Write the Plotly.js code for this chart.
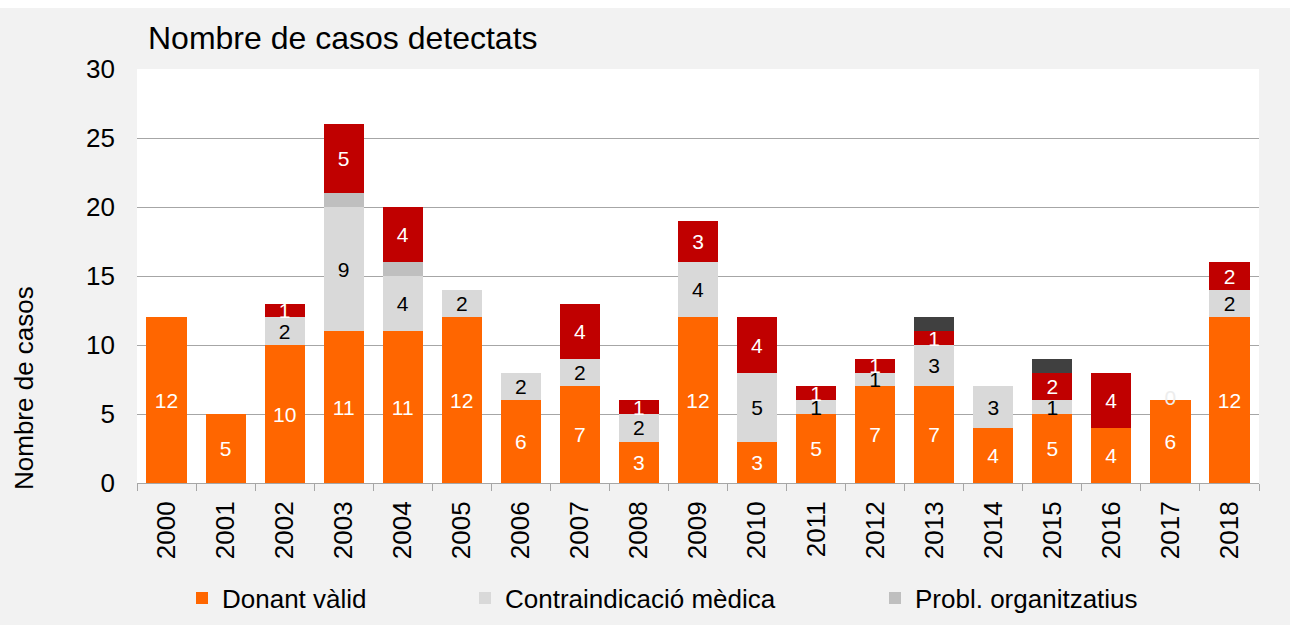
<!DOCTYPE html>
<html>
<head>
<meta charset="utf-8">
<script src="https://cdn.plot.ly/plotly-3.0.1.min.js"></script>
<style>
  body { margin: 0; background: #ffffff; }
  #chart { width: 1290px; height: 617px; margin-top: 8px; }
</style>
</head>
<body>
<div id="chart"></div>
<script>
// data
var years = ["2000","2001","2002","2003","2004","2005","2006","2007","2008","2009",
             "2010","2011","2012","2013","2014","2015","2016","2017","2018"];
var donant   = [12, 5, 10, 11, 11, 12, 6, 7, 3, 12, 3, 5, 7, 7, 4, 5, 4, 6, 12];
var contra   = [null, null, 2, 9, 4, 2, 2, 2, 2, 4, 5, 1, 1, 3, 3, 1, null, 0, 2];
var probl    = [null, null, null, 1, 1, null, null, null, null, null, null, null, null, null, null, null, null, null, null];
var negativa = [null, null, 1, 5, 4, null, null, 4, 1, 3, 4, 1, 1, 1, null, 2, 4, null, 2];
var altres   = [null, null, null, null, null, null, null, null, null, null, null, null, null, 1, null, 1, null, null, null];

var font = 'Liberation Sans, Arial, sans-serif';

// zero values can't show as a bar, so the "0" label goes in a text trace
var zeroX = [], zeroY = [];
for (var i = 0; i < years.length; i++) {
  if (contra[i] === 0) { zeroX.push(years[i]); zeroY.push(donant[i]); }
}

var labelFont = function(c) { return {color: c, size: 21, family: font}; };

var tr_donant = {
  x: years, y: donant, type: 'bar', name: 'Donant vàlid',
  marker: {color: '#FF6600'},
  texttemplate: '%{y}', textposition: 'inside', insidetextanchor: 'middle', textangle: 0,
  textfont: labelFont('#ffffff'),
  legend: 'legend'
};
var tr_contra = {
  x: years, y: contra.map(function(v){ return v === 0 ? null : v; }),
  type: 'bar', name: 'Contraindicació mèdica',
  marker: {color: '#D9D9D9'},
  texttemplate: '%{y}', textposition: 'inside', insidetextanchor: 'middle', textangle: 0,
  textfont: labelFont('#000000'),
  legend: 'legend2'
};
var tr_probl = {
  x: years, y: probl, type: 'bar', name: 'Probl. organitzatius',
  marker: {color: '#BFBFBF'}, textposition: 'none',
  legend: 'legend3'
};
var tr_neg = {
  x: years, y: negativa, type: 'bar', name: 'Negativa familiar',
  marker: {color: '#C00000'},
  texttemplate: '%{y}', textposition: 'inside', insidetextanchor: 'middle', textangle: 0,
  textfont: labelFont('#ffffff'),
  showlegend: false
};
var tr_altres = {
  x: years, y: altres, type: 'bar', name: 'Altres',
  marker: {color: '#404040'}, textposition: 'none',
  showlegend: false
};
var tr_zero = {
  x: zeroX, y: zeroY, type: 'scatter', mode: 'text', text: zeroX.map(function(){ return '0'; }),
  textposition: 'middle center',
  textfont: labelFont('#EDEDED'),
  showlegend: false, hoverinfo: 'skip'
};

var legendBase = {
  orientation: 'h', xref: 'container', yref: 'container',
  yanchor: 'middle', y: 1 - 590 / 617, xanchor: 'left',
  bgcolor: 'rgba(0,0,0,0)', font: {size: 26, family: font, color: '#000'},
  itemwidth: 30
};

var layout = {
  barmode: 'stack',
  bargap: 0.32,
  paper_bgcolor: '#F2F2F2',
  plot_bgcolor: '#FFFFFF',
  margin: {l: 137, r: 31, t: 61, b: 142},
  font: {family: font, size: 26, color: '#000'},
  title: {
    text: 'Nombre de casos detectats',
    font: {size: 32, family: font, color: '#000'},
    xref: 'container', x: 148 / 1290, xanchor: 'left',
    yref: 'container', y: 1 - 30 / 617, yanchor: 'middle'
  },
  xaxis: {
    type: 'category', tickangle: -90,
    ticks: 'outside', tickson: 'boundaries', ticklen: 7, tickcolor: '#A6A6A6',
    showline: true, linecolor: '#A6A6A6', linewidth: 1,
    showgrid: false, ticklabelstandoff: 7, tickfont: {size: 26, family: font}
  },
  yaxis: {
    range: [0, 30], dtick: 5, showgrid: true, gridcolor: '#A6A6A6',
    zeroline: false, showline: false, ticks: '',
    ticklabelstandoff: 21, tickfont: {size: 26, family: font}
  },
  annotations: [{
    text: 'Nombre de casos', textangle: -90,
    xref: 'paper', yref: 'paper',
    x: (24 - 137) / 1122, y: (475 - 380) / 414, xanchor: 'center', yanchor: 'middle',
    showarrow: false, font: {size: 26, family: font, color: '#000'}
  }],
  showlegend: true,
  legend: Object.assign({}, legendBase, {x: 182 / 1290}),
  legend2: Object.assign({}, legendBase, {x: 465 / 1290}),
  legend3: Object.assign({}, legendBase, {x: 875 / 1290}),
  uniformtext: {mode: 'show', minsize: 21}
};

Plotly.newPlot('chart', [tr_donant, tr_contra, tr_probl, tr_neg, tr_altres, tr_zero], layout,
  {displayModeBar: false, staticPlot: true});
</script>
</body>
</html>
